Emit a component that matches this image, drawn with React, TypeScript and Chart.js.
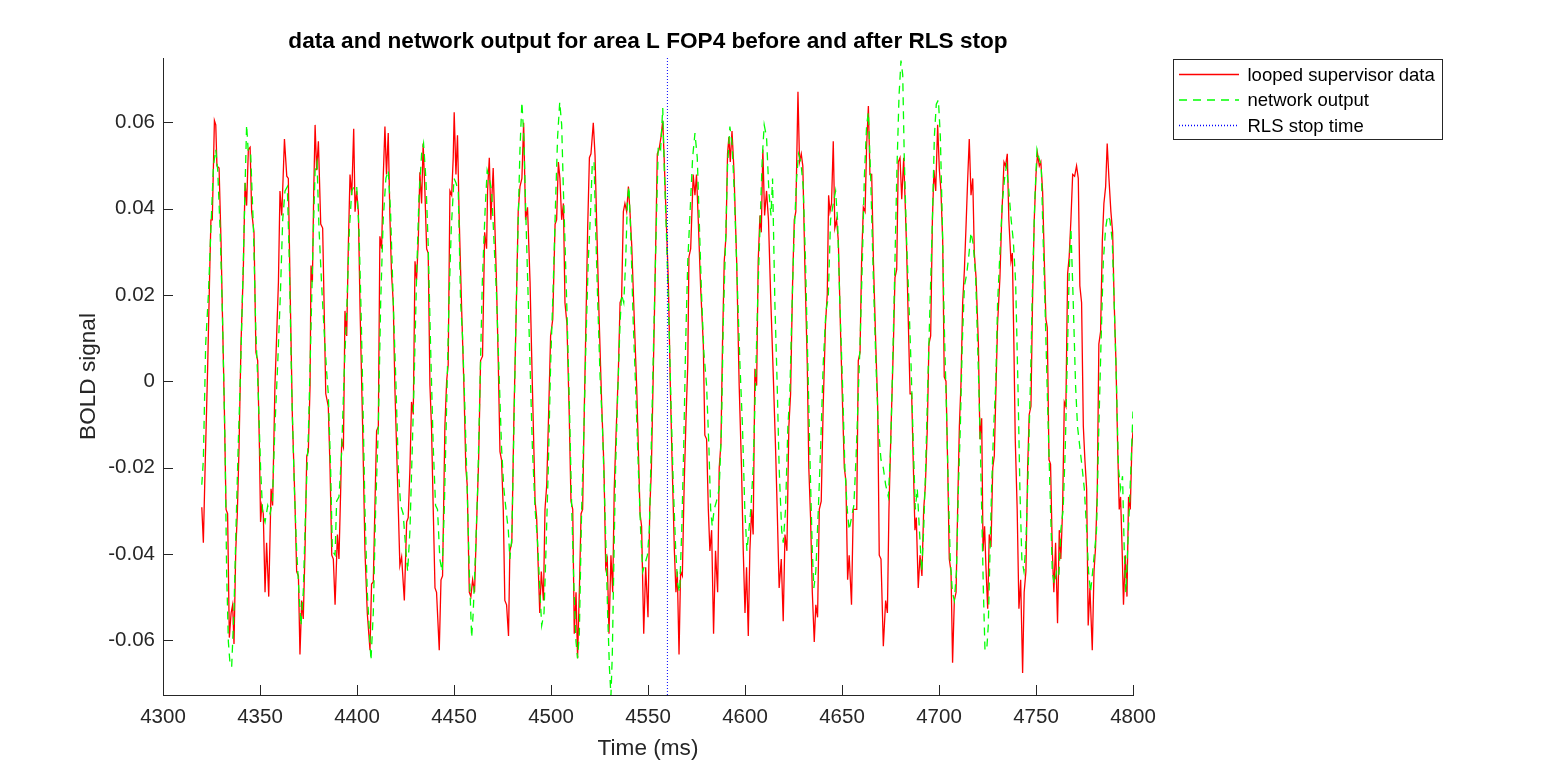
import { useEffect, useRef } from "react";
import { Chart, registerables } from "chart.js";

Chart.register(...registerables);

// looped supervisor data (red)
const supervisorTime = [
  4320.0, 4320.8, 4321.7, 4323.0, 4324.2, 4324.7, 4325.4, 4326.5, 4327.2, 4327.8, 4328.9, 4329.9, 4330.6, 4331.6, 4332.5, 4333.3,
  4334.2, 4335.1, 4335.9, 4336.6, 4337.5, 4338.3, 4339.2, 4340.2, 4341.4, 4342.3, 4343.1, 4344.0, 4344.9, 4345.7, 4346.9, 4347.9,
  4348.8, 4349.7, 4350.3, 4350.9, 4351.7, 4352.6, 4353.4, 4354.5, 4355.7, 4356.5, 4357.7, 4358.3, 4359.5, 4360.3, 4361.2, 4361.9,
  4362.6, 4363.8, 4364.6, 4365.5, 4366.7, 4368.0, 4368.9, 4369.8, 4370.6, 4371.5, 4372.3, 4373.2, 4374.1, 4374.9, 4375.8, 4376.3,
  4377.0, 4377.7, 4378.4, 4379.2, 4380.1, 4381.3, 4382.3, 4383.9, 4385.2, 4386.1, 4387.0, 4387.8, 4388.7, 4389.9, 4390.7, 4391.6,
  4392.1, 4393.0, 4393.8, 4394.7, 4395.5, 4396.4, 4397.3, 4398.3, 4399.0, 4399.8, 4400.7, 4401.6,
  4402.9, 4404.1, 4405.3, 4406.7, 4407.5, 4408.4, 4409.2, 4410.1, 4411.0, 4411.8, 4412.7, 4413.5, 4414.4, 4415.2, 4416.1, 4417.0,
  4417.8, 4418.7, 4419.5, 4420.4, 4421.3, 4422.1, 4423.0, 4424.4, 4425.6, 4426.4, 4427.3, 4428.1, 4429.0, 4429.9, 4430.7, 4431.6,
  4432.4, 4433.3, 4434.1, 4435.0, 4435.9, 4436.7, 4437.6, 4438.4, 4439.3, 4440.2, 4441.0, 4442.4, 4443.3, 4444.1, 4445.3, 4446.2,
  4447.0, 4447.9, 4448.8, 4449.6, 4450.1, 4451.0, 4451.8, 4452.7, 4453.9, 4455.1, 4456.1, 4456.8, 4457.9, 4458.7, 4459.6, 4460.6,
  4461.6, 4462.7, 4463.7, 4464.7, 4465.8, 4466.8, 4467.3, 4468.2, 4469.0, 4470.2, 4471.1, 4471.9, 4472.8, 4473.7, 4474.5, 4475.4,
  4476.2, 4477.1, 4478.1, 4478.8, 4479.8, 4480.9, 4481.9, 4483.1, 4484.0, 4485.0, 4485.9, 4486.9, 4487.9,
  4489.2, 4490.0, 4490.9, 4491.8, 4492.6, 4493.5, 4494.2, 4495.0, 4496.1, 4496.9, 4497.8, 4498.6, 4499.8, 4500.9, 4502.1, 4502.9,
  4503.8, 4504.6, 4505.5, 4506.4, 4507.2, 4508.2, 4509.3, 4510.3, 4511.2, 4512.0, 4512.9, 4513.7, 4514.6, 4515.5, 4516.3, 4517.2,
  4518.0, 4518.9, 4519.8, 4520.6, 4521.8, 4522.7, 4523.5, 4524.7, 4526.1, 4527.3, 4528.2, 4529.0, 4529.9, 4530.9, 4531.8, 4532.6,
  4533.5, 4534.7, 4535.6, 4536.4, 4537.3, 4538.1, 4539.0, 4539.9, 4540.7, 4541.6, 4543.0, 4544.2, 4545.0, 4545.9, 4546.7, 4547.8,
  4548.8, 4550.0, 4550.9, 4551.7, 4552.8, 4553.6, 4554.8, 4555.7, 4556.7, 4557.6, 4558.4, 4559.4, 4560.5, 4561.5, 4562.5, 4563.6,
  4564.4, 4565.1, 4566.0, 4566.8, 4567.7, 4568.6, 4569.6, 4570.5, 4571.1, 4572.0,
  4573.3, 4574.2, 4575.0, 4575.9, 4577.1, 4578.5, 4579.3, 4580.2, 4581.1, 4581.9, 4582.8, 4583.8, 4584.8, 4585.9, 4586.7, 4587.6,
  4588.4, 4589.3, 4590.2, 4591.0, 4591.7, 4592.4, 4593.3, 4594.3, 4595.7, 4597.0, 4598.2, 4599.1, 4600.0, 4600.8, 4601.7, 4602.5,
  4603.4, 4604.2, 4605.1, 4606.0, 4606.8, 4607.7, 4608.4, 4609.2, 4610.1, 4611.1, 4612.1, 4613.2, 4614.6, 4615.8, 4616.6, 4617.6,
  4618.7, 4619.7, 4620.6, 4621.6, 4622.6, 4623.5, 4624.5, 4625.4, 4626.2, 4627.3, 4628.1, 4629.0, 4629.8, 4630.9, 4632.1, 4632.9,
  4633.8, 4634.7, 4635.7, 4636.5, 4637.4, 4638.3, 4639.3, 4640.3, 4641.5, 4642.4, 4643.1, 4643.8, 4644.6, 4645.5, 4646.3, 4647.2,
  4648.1, 4649.3, 4650.3, 4651.2, 4652.0, 4652.9, 4653.7, 4654.9, 4655.8, 4656.8,
  4657.6, 4658.4, 4659.3, 4660.1, 4661.0, 4661.9, 4662.7, 4663.6, 4664.4, 4665.3, 4666.2, 4667.4, 4668.4, 4669.2, 4670.1, 4671.3,
  4672.5, 4673.4, 4674.2, 4675.3, 4676.5, 4677.3, 4678.2, 4679.0, 4679.9, 4680.8, 4681.8, 4682.5, 4683.3, 4684.2, 4685.1, 4685.9,
  4686.8, 4687.6, 4688.3, 4689.3, 4690.2, 4691.2, 4692.1, 4693.0, 4694.0, 4694.8, 4695.7, 4696.6, 4697.4, 4698.3, 4699.3, 4700.2,
  4701.0, 4701.9, 4702.7, 4703.6, 4704.5, 4705.3, 4706.2, 4707.0, 4707.9, 4708.8, 4709.6, 4710.5, 4711.3, 4712.2, 4713.1, 4713.9,
  4714.8, 4715.6, 4716.5, 4717.4, 4718.2, 4719.1, 4720.3, 4721.1, 4722.0, 4722.7, 4723.5, 4724.2, 4725.1, 4725.9, 4726.8, 4727.7,
  4728.5, 4729.4, 4730.2,
  4731.4, 4732.3, 4733.5, 4734.3, 4735.2, 4736.0, 4737.1, 4737.8, 4738.6, 4739.3, 4740.3, 4741.2, 4742.1, 4743.1, 4743.9, 4744.8,
  4745.7, 4746.5, 4747.4, 4748.2, 4749.1, 4750.0, 4750.8, 4751.7, 4752.5, 4753.4, 4754.3, 4755.1, 4755.8, 4756.7, 4757.5, 4758.4,
  4759.2, 4760.1, 4761.1, 4762.0, 4762.8, 4763.7, 4764.6, 4765.4, 4766.3, 4767.1, 4768.0, 4768.9, 4769.9, 4770.9, 4771.8, 4772.6,
  4773.5, 4774.4, 4775.2, 4776.1, 4776.9, 4777.8, 4779.0, 4779.9, 4780.7, 4781.6, 4782.4, 4783.3, 4784.2, 4785.0, 4785.9, 4786.7,
  4787.6, 4788.6, 4789.5, 4790.3, 4791.2, 4792.1, 4792.9, 4793.6, 4794.3, 4795.1, 4796.0, 4796.9, 4797.7, 4798.6, 4799.4, 4800.0,
];
const supervisorBold = [
  -0.0292, -0.0374, -0.0201, 0.0029, 0.0278, 0.0374, 0.0374, 0.0604, 0.0594, 0.0499, 0.0494, 0.0326, 0.0163, -0.0058, -0.0297, -0.0307,
  -0.0594, -0.0537, -0.0518, -0.0609, -0.0393, -0.0307, -0.0153, 0.0086, 0.0259, 0.0460, 0.0407, 0.0537, 0.0542, 0.0393, 0.0345, 0.0067,
  0.0048, -0.0153, -0.0326, -0.0288, -0.0307, -0.0489, -0.0374, -0.0499, -0.0249, -0.0288, -0.0010, 0.0067, 0.0230, 0.0441, 0.0384, 0.0470,
  0.0561, 0.0475, 0.0470, 0.0221, -0.0086, -0.0278, -0.0441, -0.0451, -0.0633, -0.0508, -0.0551, -0.0393, -0.0173, -0.0163, -0.0010, 0.0268,
  0.0230, 0.0441, 0.0594, 0.0489, 0.0556, 0.0364, 0.0355, -0.0029, -0.0058, -0.0201, -0.0403, -0.0412, -0.0518, -0.0355, -0.0412, -0.0249,
  -0.0139, -0.0153, 0.0163, 0.0105, 0.0307, 0.0479, 0.0431, 0.0585, 0.0393, 0.0441, 0.0393, 0.0163,
  -0.0105, -0.0393, -0.0537, -0.0623, -0.0470, -0.0465, -0.0297, -0.0115, -0.0105, 0.0336, 0.0307, 0.0470, 0.0590, 0.0479, 0.0575, 0.0374,
  0.0249, 0.0182, -0.0010, -0.0153, -0.0297, -0.0427, -0.0407, -0.0508, -0.0326, -0.0316, -0.0201, -0.0048, -0.0077, 0.0278, 0.0235, 0.0326,
  0.0484, 0.0412, 0.0551, 0.0441, 0.0307, 0.0297, -0.0010, -0.0105, -0.0297, -0.0479, -0.0489, -0.0623, -0.0460, -0.0451, -0.0105, 0.0000,
  0.0038, 0.0441, 0.0431, 0.0518, 0.0623, 0.0479, 0.0570, 0.0374, 0.0173, -0.0010, -0.0201, -0.0240, -0.0489, -0.0499, -0.0460, -0.0489,
  -0.0336, -0.0182, 0.0048, 0.0058, 0.0345, 0.0307, 0.0441, 0.0518, 0.0374, 0.0494, 0.0355, 0.0230, 0.0048, -0.0163, -0.0182, -0.0297,
  -0.0508, -0.0518, -0.0590, -0.0393, -0.0374, -0.0077, 0.0125, 0.0393, 0.0451, 0.0470, 0.0599, 0.0374, 0.0403,
  0.0230, 0.0067, -0.0105, -0.0278, -0.0316, -0.0441, -0.0537, -0.0441, -0.0508, -0.0297, -0.0240, -0.0105, 0.0105, 0.0144, 0.0364, 0.0374,
  0.0508, 0.0470, 0.0374, 0.0412, 0.0182, 0.0134, -0.0058, -0.0278, -0.0297, -0.0585, -0.0489, -0.0642, -0.0489, -0.0307, -0.0297, -0.0058,
  0.0134, 0.0355, 0.0518, 0.0527, 0.0599, 0.0523, 0.0374, 0.0163, -0.0048, -0.0201, -0.0431, -0.0412, -0.0585, -0.0403, -0.0489, -0.0249,
  -0.0125, 0.0019, 0.0182, 0.0192, 0.0393, 0.0412, 0.0393, 0.0451, 0.0393, 0.0316, 0.0134, -0.0019, -0.0153, -0.0307, -0.0336, -0.0585,
  -0.0431, -0.0547, -0.0297, -0.0211, 0.0038, 0.0221, 0.0527, 0.0537, 0.0566, 0.0604, 0.0508, 0.0374, 0.0230, -0.0010, -0.0201, -0.0393,
  -0.0489, -0.0441, -0.0633, -0.0441, -0.0451, -0.0249, -0.0086, 0.0038, 0.0288, 0.0307,
  0.0479, 0.0431, 0.0479, 0.0374, 0.0221, 0.0086, -0.0125, -0.0134, -0.0297, -0.0393, -0.0345, -0.0585, -0.0393, -0.0489, -0.0201, -0.0144,
  0.0086, 0.0278, 0.0336, 0.0527, 0.0566, 0.0508, 0.0580, 0.0489, 0.0278, -0.0010, -0.0201, -0.0393, -0.0537, -0.0431, -0.0590, -0.0393,
  -0.0297, -0.0355, 0.0029, -0.0010, 0.0278, 0.0384, 0.0345, 0.0537, 0.0384, 0.0441, 0.0374, 0.0201, 0.0010, -0.0163, -0.0297, -0.0479,
  -0.0412, -0.0556, -0.0355, -0.0393, -0.0105, -0.0029, 0.0221, 0.0374, 0.0393, 0.0671, 0.0508, 0.0527, 0.0499, 0.0259, 0.0038, -0.0201,
  -0.0316, -0.0489, -0.0604, -0.0518, -0.0547, -0.0297, -0.0278, -0.0058, 0.0134, 0.0201, 0.0431, 0.0393, 0.0412, 0.0556, 0.0355, 0.0374,
  0.0326, 0.0105, -0.0058, -0.0201, -0.0230, -0.0460, -0.0403, -0.0518, -0.0297, -0.0297,
  -0.0297, 0.0048, 0.0067, 0.0278, 0.0403, 0.0393, 0.0547, 0.0638, 0.0479, 0.0479, 0.0278, 0.0086, -0.0058, -0.0403, -0.0412, -0.0614,
  -0.0508, -0.0537, -0.0297, -0.0105, 0.0086, 0.0240, 0.0259, 0.0508, 0.0518, 0.0422, 0.0518, 0.0422, 0.0307, 0.0134, -0.0029, -0.0029,
  -0.0201, -0.0345, -0.0316, -0.0479, -0.0403, -0.0451, -0.0297, -0.0240, -0.0105, 0.0086, 0.0105, 0.0374, 0.0489, 0.0441, 0.0594, 0.0489,
  0.0441, 0.0326, 0.0010, 0.0000, -0.0201, -0.0412, -0.0441, -0.0652, -0.0508, -0.0489, -0.0297, -0.0105, -0.0010, 0.0182, 0.0259, 0.0355,
  0.0470, 0.0561, 0.0431, 0.0470, 0.0297, 0.0240, 0.0086, -0.0134, -0.0086, -0.0393, -0.0336, -0.0431, -0.0527, -0.0355, -0.0384, -0.0201,
  -0.0173, -0.0010, 0.0134,
  0.0240, 0.0374, 0.0508, 0.0499, 0.0527, 0.0374, 0.0278, 0.0297, 0.0086, -0.0134, -0.0297, -0.0527, -0.0460, -0.0676, -0.0489, -0.0441,
  -0.0201, -0.0077, -0.0058, 0.0182, 0.0374, 0.0479, 0.0527, 0.0499, 0.0508, 0.0441, 0.0278, 0.0144, 0.0125, -0.0182, -0.0192, -0.0393,
  -0.0489, -0.0374, -0.0561, -0.0345, -0.0412, -0.0297, -0.0048, -0.0058, 0.0249, 0.0288, 0.0374, 0.0479, 0.0475, 0.0499, 0.0470, 0.0221,
  0.0182, -0.0105, -0.0182, -0.0249, -0.0566, -0.0479, -0.0623, -0.0441, -0.0384, -0.0249, 0.0086, 0.0115, 0.0326, 0.0412, 0.0451, 0.0551,
  0.0470, 0.0393, 0.0345, 0.0182, 0.0048, -0.0153, -0.0297, -0.0268, -0.0374, -0.0518, -0.0403, -0.0499, -0.0268, -0.0297, -0.0153, -0.0115,
];

// network output (green, dashed)
const networkTime = [
  4320.0, 4320.8, 4322.0, 4323.4, 4324.7, 4326.0, 4327.2, 4328.2, 4329.4, 4330.6, 4332.0, 4332.8, 4333.7, 4334.5, 4335.4, 4336.6,
  4337.6, 4338.8, 4340.0, 4341.4, 4342.3, 4343.1, 4344.0, 4345.2, 4346.6, 4347.8, 4349.1, 4350.3, 4351.4, 4352.6, 4354.0, 4355.2,
  4356.4, 4357.7, 4359.1, 4360.5, 4361.7, 4362.9, 4364.1, 4365.1, 4366.3, 4367.7, 4368.9, 4370.1, 4371.1, 4372.3, 4373.5, 4374.9,
  4376.1, 4377.2, 4378.4, 4379.4, 4380.4, 4381.8, 4383.2, 4384.4, 4385.2, 4386.4, 4387.3, 4388.7, 4389.5, 4390.7, 4392.1, 4393.3,
  4394.7, 4396.1, 4397.3, 4398.5, 4399.8, 4401.0, 4402.1,
  4402.9, 4404.1, 4405.3, 4406.7, 4407.2, 4408.4, 4409.6, 4411.0, 4412.2, 4413.5, 4414.9, 4416.1, 4417.3, 4418.7, 4420.1, 4421.3,
  4422.5, 4423.8, 4425.2, 4426.1, 4427.3, 4428.5, 4429.5, 4430.7, 4431.9, 4433.3, 4434.3, 4435.5, 4436.7, 4437.9, 4439.3, 4440.5,
  4441.5, 4442.7, 4443.9, 4445.0, 4446.2, 4447.4, 4448.6, 4450.0, 4451.0, 4452.2, 4453.4, 4454.4, 4455.6, 4456.8, 4457.9, 4459.1,
  4459.9, 4461.1, 4462.2, 4463.4, 4464.6, 4466.0, 4467.1, 4468.2, 4469.4, 4470.6, 4471.9, 4473.3, 4474.5, 4475.7, 4476.8, 4478.0,
  4478.8, 4479.8, 4480.9, 4481.9, 4483.1, 4484.0, 4485.0, 4486.0, 4487.1,
  4488.0, 4489.2, 4490.4, 4491.8, 4493.1, 4494.3, 4495.2, 4496.4, 4497.4, 4498.6, 4499.8, 4501.2, 4502.4, 4503.4, 4504.5, 4505.5,
  4506.4, 4507.2, 4508.4, 4509.5, 4510.7, 4511.9, 4512.9, 4513.7, 4514.6, 4515.8, 4517.0, 4518.0, 4519.2, 4520.4, 4521.3, 4522.2,
  4523.0, 4524.1, 4525.3, 4526.5, 4527.5, 4528.4, 4529.2, 4530.1, 4530.9, 4531.6, 4532.5, 4533.3, 4534.4, 4535.6, 4536.4, 4537.5,
  4538.5, 4539.4, 4540.2, 4541.2, 4542.4, 4543.6, 4545.0, 4546.2, 4547.3, 4548.5, 4549.7, 4550.7, 4551.9, 4553.1, 4554.1, 4555.3,
  4556.5, 4557.6, 4558.4, 4559.6, 4560.8, 4561.9, 4563.1, 4564.3, 4565.3, 4566.3, 4567.4, 4568.4, 4569.4, 4570.5, 4571.3,
  4573.0, 4574.2, 4575.4, 4576.4, 4577.6, 4578.8, 4580.2, 4581.4, 4582.3, 4583.1, 4584.1, 4585.3, 4586.7, 4587.9, 4588.8, 4590.0,
  4591.0, 4592.2, 4593.4, 4594.6, 4596.0, 4597.4, 4598.7, 4599.9, 4601.0, 4601.8, 4603.0, 4604.2, 4605.4, 4606.5, 4607.7, 4608.9,
  4609.9, 4611.1, 4612.3, 4613.4, 4614.2, 4615.4, 4616.6, 4617.6, 4618.9, 4619.7, 4620.9, 4622.1, 4623.1, 4624.0, 4625.2, 4626.6,
  4627.6, 4628.8, 4630.0, 4631.2, 4632.4, 4633.6, 4634.7, 4635.5, 4636.5, 4637.8, 4639.0, 4640.3, 4641.7, 4642.9, 4644.1, 4645.5,
  4646.7, 4647.7, 4648.9, 4650.3, 4651.5, 4652.7, 4653.7, 4654.9, 4656.1, 4657.2,
  4659.3, 4660.5, 4661.5, 4662.7, 4663.6, 4664.8, 4666.2, 4667.5, 4668.7, 4670.1, 4671.3, 4672.5, 4673.9, 4675.1, 4676.1, 4677.3,
  4678.3, 4679.4, 4680.4, 4681.3, 4682.1, 4683.3, 4684.5, 4685.6, 4686.8, 4687.8, 4688.8, 4689.9, 4691.1, 4692.1, 4693.1, 4694.2,
  4695.4, 4696.6, 4697.6, 4698.6, 4699.7, 4700.7, 4701.7, 4702.7, 4703.8, 4704.8, 4705.8, 4706.9, 4707.9, 4709.0, 4710.0, 4711.0,
  4712.0, 4713.1, 4714.3, 4715.5, 4716.5, 4717.7, 4718.9, 4719.9, 4721.1, 4722.0, 4722.9, 4723.7, 4724.6, 4725.4, 4726.3, 4727.1,
  4728.2, 4729.2, 4730.2,
  4732.6, 4733.8, 4734.8, 4736.0, 4737.2, 4738.3, 4739.5, 4740.7, 4741.7, 4742.7, 4743.8, 4744.8, 4746.0, 4747.2, 4748.2, 4749.4,
  4750.5, 4751.5, 4752.7, 4753.7, 4754.9, 4756.0, 4757.2, 4758.4, 4759.4, 4760.6, 4761.8, 4762.8, 4764.0, 4765.1, 4766.3, 4767.1,
  4768.0, 4769.2, 4770.4, 4771.4, 4772.6, 4773.8, 4774.9, 4776.1, 4777.1, 4778.1, 4779.2, 4780.2, 4781.2, 4782.4, 4783.5, 4784.7,
  4785.9, 4786.9, 4788.1, 4789.3, 4790.3, 4791.5, 4792.5, 4793.6, 4794.6, 4795.5, 4796.3, 4797.2, 4798.1, 4798.9, 4800.0,
];
const networkBold = [
  -0.0240, -0.0182, 0.0086, 0.0201, 0.0355, 0.0499, 0.0537, 0.0489, 0.0355, 0.0163, -0.0153, -0.0441, -0.0604, -0.0652, -0.0662, -0.0527,
  -0.0345, -0.0144, 0.0029, 0.0278, 0.0451, 0.0594, 0.0527, 0.0527, 0.0355, 0.0125, -0.0029, -0.0201, -0.0307, -0.0326, -0.0288, -0.0307,
  -0.0278, -0.0105, 0.0038, 0.0201, 0.0374, 0.0441, 0.0451, 0.0278, -0.0010, -0.0249, -0.0393, -0.0489, -0.0566, -0.0489, -0.0297, -0.0125,
  0.0086, 0.0297, 0.0489, 0.0508, 0.0355, 0.0221, 0.0105, 0.0019, -0.0029, -0.0201, -0.0393, -0.0403, -0.0278, -0.0268, -0.0163, 0.0010,
  0.0163, 0.0355, 0.0441, 0.0451, 0.0455, 0.0355, 0.0163,
  -0.0010, -0.0297, -0.0489, -0.0604, -0.0647, -0.0537, -0.0297, -0.0105, 0.0182, 0.0374, 0.0470, 0.0489, 0.0393, 0.0182, -0.0010, -0.0201,
  -0.0288, -0.0307, -0.0393, -0.0441, -0.0345, -0.0153, 0.0010, 0.0240, 0.0422, 0.0527, 0.0551, 0.0470, 0.0316, 0.0086, -0.0153, -0.0288,
  -0.0297, -0.0412, -0.0441, -0.0297, -0.0058, 0.0182, 0.0355, 0.0470, 0.0460, 0.0441, 0.0182, 0.0105, -0.0058, -0.0249, -0.0441, -0.0594,
  -0.0537, -0.0393, -0.0249, -0.0010, 0.0230, 0.0393, 0.0489, 0.0470, 0.0441, 0.0326, 0.0201, 0.0010, -0.0153, -0.0249, -0.0297, -0.0345,
  -0.0412, -0.0364, -0.0105, 0.0134, 0.0374, 0.0537, 0.0647, 0.0566, 0.0374,
  0.0230, 0.0038, -0.0153, -0.0297, -0.0374, -0.0489, -0.0566, -0.0537, -0.0393, -0.0201, 0.0038, 0.0230, 0.0422, 0.0566, 0.0647, 0.0594,
  0.0441, 0.0326, 0.0134, -0.0058, -0.0297, -0.0489, -0.0604, -0.0642, -0.0585, -0.0297, -0.0105, 0.0086, 0.0278, 0.0393, 0.0508, 0.0508,
  0.0355, 0.0182, 0.0010, -0.0105, -0.0249, -0.0393, -0.0537, -0.0662, -0.0729, -0.0633, -0.0393, -0.0201, -0.0029, 0.0134, 0.0201, 0.0182,
  0.0278, 0.0422, 0.0451, 0.0326, 0.0134, -0.0010, -0.0201, -0.0345, -0.0441, -0.0422, -0.0403, -0.0345, -0.0105, 0.0134, 0.0326, 0.0547,
  0.0537, 0.0633, 0.0489, 0.0326, 0.0134, -0.0058, -0.0249, -0.0393, -0.0470, -0.0489, -0.0345, -0.0153, 0.0086, 0.0278, 0.0355,
  0.0518, 0.0575, 0.0518, 0.0374, 0.0201, 0.0067, -0.0010, -0.0153, -0.0297, -0.0336, -0.0297, -0.0278, -0.0249, -0.0105, 0.0134, 0.0326,
  0.0499, 0.0590, 0.0547, 0.0422, 0.0230, 0.0038, -0.0105, -0.0297, -0.0393, -0.0355, -0.0297, -0.0201, -0.0010, 0.0182, 0.0355, 0.0518,
  0.0594, 0.0566, 0.0441, 0.0384, 0.0470, 0.0182, -0.0010, -0.0201, -0.0345, -0.0374, -0.0297, -0.0105, -0.0029, 0.0134, 0.0326, 0.0470,
  0.0527, 0.0508, 0.0451, 0.0278, 0.0038, -0.0201, -0.0393, -0.0479, -0.0441, -0.0297, -0.0153, 0.0038, 0.0163, 0.0192, 0.0374, 0.0412,
  0.0441, 0.0374, 0.0182, -0.0010, -0.0201, -0.0297, -0.0345, -0.0316, -0.0288, -0.0182,
  0.0086, 0.0278, 0.0470, 0.0594, 0.0623, 0.0470, 0.0230, 0.0038, -0.0105, -0.0182, -0.0201, -0.0240, -0.0268, -0.0153, 0.0038, 0.0278,
  0.0489, 0.0662, 0.0743, 0.0710, 0.0518, 0.0326, 0.0182, 0.0038, -0.0153, -0.0297, -0.0249, -0.0345, -0.0441, -0.0345, -0.0201, -0.0010,
  0.0182, 0.0374, 0.0566, 0.0642, 0.0652, 0.0566, 0.0374, 0.0134, -0.0058, -0.0249, -0.0412, -0.0489, -0.0508, -0.0441, -0.0249, -0.0105,
  0.0086, 0.0221, 0.0249, 0.0297, 0.0345, 0.0316, 0.0240, 0.0086, -0.0105, -0.0297, -0.0489, -0.0623, -0.0623, -0.0566, -0.0393, -0.0249,
  -0.0105, -0.0010, 0.0182,
  0.0412, 0.0470, 0.0499, 0.0441, 0.0374, 0.0326, 0.0230, -0.0010, -0.0249, -0.0412, -0.0441, -0.0374, -0.0201, 0.0010, 0.0230, 0.0422,
  0.0537, 0.0518, 0.0499, 0.0326, 0.0134, -0.0058, -0.0249, -0.0441, -0.0470, -0.0441, -0.0451, -0.0345, -0.0297, -0.0153, 0.0086, 0.0249,
  0.0355, 0.0182, -0.0010, -0.0105, -0.0153, -0.0201, -0.0249, -0.0345, -0.0441, -0.0489, -0.0441, -0.0393, -0.0345, -0.0105, 0.0086, 0.0278,
  0.0355, 0.0384, 0.0374, 0.0326, 0.0182, -0.0010, -0.0201, -0.0249, -0.0220, -0.0393, -0.0489, -0.0393, -0.0297, -0.0201, -0.0070,
];

const rlsStopTime = 4560;
const seriesNames = ["looped supervisor data", "network output", "RLS stop time"];
const chartTitle = "data and network output for area L FOP4 before and after RLS stop";
const xLabel = "Time (ms)";
const yLabel = "BOLD signal";
const xLimits = [4300, 4800];
const yLimits = [-0.0727, 0.0749];
const xTicks = [4300, 4350, 4400, 4450, 4500, 4550, 4600, 4650, 4700, 4750, 4800];
const yTicks = [-0.06, -0.04, -0.02, 0, 0.02, 0.04, 0.06];

const AXIS_COLOR = "#262626";
const FONT = "'Liberation Sans', Arial, Helvetica, sans-serif";
const RED = "#ff0000";
const GREEN = "#00ff00";
const BLUE = "#0000ff";
const GREEN_DASH = [8, 6];
const BLUE_DASH = [1, 2];

const toPoints = (xs: number[], ys: number[]) => xs.map((x, i) => ({ x, y: ys[i] }));

// MATLAB-like decorations: inward ticks, title, axis labels and boxed legend
const matlabDecor = {
  id: "matlabDecor",
  afterDraw(chart: any) {
    const { ctx, chartArea, scales } = chart;
    const xs = scales.x;
    const ys = scales.y;
    ctx.save();

    // inward tick marks
    ctx.strokeStyle = AXIS_COLOR;
    ctx.lineWidth = 1;
    ctx.setLineDash([]);
    ctx.beginPath();
    for (const t of xTicks) {
      const px = Math.round(xs.getPixelForValue(t)) + 0.5;
      ctx.moveTo(px, chartArea.bottom);
      ctx.lineTo(px, chartArea.bottom - 10);
    }
    for (const v of yTicks) {
      const py = Math.round(ys.getPixelForValue(v)) + 0.5;
      ctx.moveTo(chartArea.left, py);
      ctx.lineTo(chartArea.left + 10, py);
    }
    ctx.stroke();

    // title
    const cx = (chartArea.left + chartArea.right) / 2;
    ctx.fillStyle = "#000000";
    ctx.font = `bold 22.6px ${FONT}`;
    ctx.textAlign = "center";
    ctx.textBaseline = "alphabetic";
    ctx.fillText(chartTitle, cx, 48);

    // axis labels
    ctx.fillStyle = AXIS_COLOR;
    ctx.font = `22.6px ${FONT}`;
    ctx.fillText(xLabel, cx, 755);
    ctx.save();
    ctx.translate(94.5, (chartArea.top + chartArea.bottom) / 2);
    ctx.rotate(-Math.PI / 2);
    ctx.fillText(yLabel, 0, 0);
    ctx.restore();

    // legend
    const bx = 1173.5;
    const by = 59.5;
    ctx.fillStyle = "#ffffff";
    ctx.fillRect(bx, by, 269, 80);
    ctx.strokeStyle = AXIS_COLOR;
    ctx.strokeRect(bx, by, 269, 80);
    const rows = [74.5, 100, 125.5];
    const colors = [RED, GREEN, BLUE];
    const dashes = [[], GREEN_DASH, BLUE_DASH];
    ctx.font = `18.5px ${FONT}`;
    ctx.textAlign = "left";
    ctx.textBaseline = "middle";
    rows.forEach((ry, i) => {
      ctx.strokeStyle = colors[i];
      ctx.lineWidth = 1.3;
      ctx.setLineDash(dashes[i]);
      ctx.beginPath();
      ctx.moveTo(1179, ry);
      ctx.lineTo(1239, ry);
      ctx.stroke();
      ctx.fillStyle = "#000000";
      ctx.fillText(seriesNames[i], 1247.5, ry + 1);
    });
    ctx.restore();
  },
};

export default function App() {
  const canvasRef = useRef<HTMLCanvasElement>(null);
  const chartRef = useRef<Chart | null>(null);

  useEffect(() => {
    document.body.style.margin = "0";
    if (canvasRef.current) {
      chartRef.current = new Chart(canvasRef.current, {
        type: "line",
        data: {
          datasets: [
            {
              label: seriesNames[0],
              data: toPoints(supervisorTime, supervisorBold),
              borderColor: RED,
              borderWidth: 1.3,
              pointRadius: 0,
              tension: 0,
              order: 3,
            },
            {
              label: seriesNames[1],
              data: toPoints(networkTime, networkBold),
              borderColor: GREEN,
              borderWidth: 1.3,
              borderDash: GREEN_DASH,
              pointRadius: 0,
              tension: 0,
              order: 2,
            },
            {
              label: seriesNames[2],
              data: [
                { x: rlsStopTime, y: yLimits[0] },
                { x: rlsStopTime, y: yLimits[1] },
              ],
              borderColor: BLUE,
              borderWidth: 1,
              borderDash: BLUE_DASH,
              pointRadius: 0,
              order: 1,
            },
          ],
        },
        options: {
          animation: false,
          responsive: true,
          maintainAspectRatio: false,
          events: [],
          layout: { padding: { left: 0, right: 430, top: 58, bottom: 0 } },
          plugins: {
            legend: { display: false },
            title: { display: false },
            tooltip: { enabled: false },
          },
          scales: {
            x: {
              type: "linear",
              min: xLimits[0],
              max: xLimits[1],
              afterBuildTicks: (scale: any) => {
                scale.ticks = xTicks.map((value) => ({ value }));
              },
              afterFit: (scale: any) => {
                scale.height = 86;
              },
              grid: { display: false, drawTicks: false },
              border: { display: true, color: AXIS_COLOR, width: 1 },
              ticks: {
                padding: 10,
                maxRotation: 0,
                autoSkip: false,
                color: AXIS_COLOR,
                font: { family: FONT, size: 20.5 },
                callback: (v: any) => String(v),
              },
            },
            y: {
              type: "linear",
              min: yLimits[0],
              max: yLimits[1],
              afterBuildTicks: (scale: any) => {
                scale.ticks = yTicks.map((value) => ({ value }));
              },
              afterFit: (scale: any) => {
                scale.width = 163;
              },
              grid: { display: false, drawTicks: false },
              border: { display: true, color: AXIS_COLOR, width: 1 },
              ticks: {
                padding: 8,
                autoSkip: false,
                color: AXIS_COLOR,
                font: { family: FONT, size: 20.5 },
                callback: (v: any) => (Math.abs(Number(v)) < 1e-9 ? "0" : Number(v).toFixed(2)),
              },
            },
          },
        },
        plugins: [matlabDecor],
      });
    }

    return () => {
      if (chartRef.current) {
        chartRef.current.destroy();
        chartRef.current = null;
      }
    };
  }, []);

  return (
    <div style={{ position: "relative", width: "1563px", height: "781px", background: "#ffffff" }}>
      <canvas ref={canvasRef} />
    </div>
  );
}
